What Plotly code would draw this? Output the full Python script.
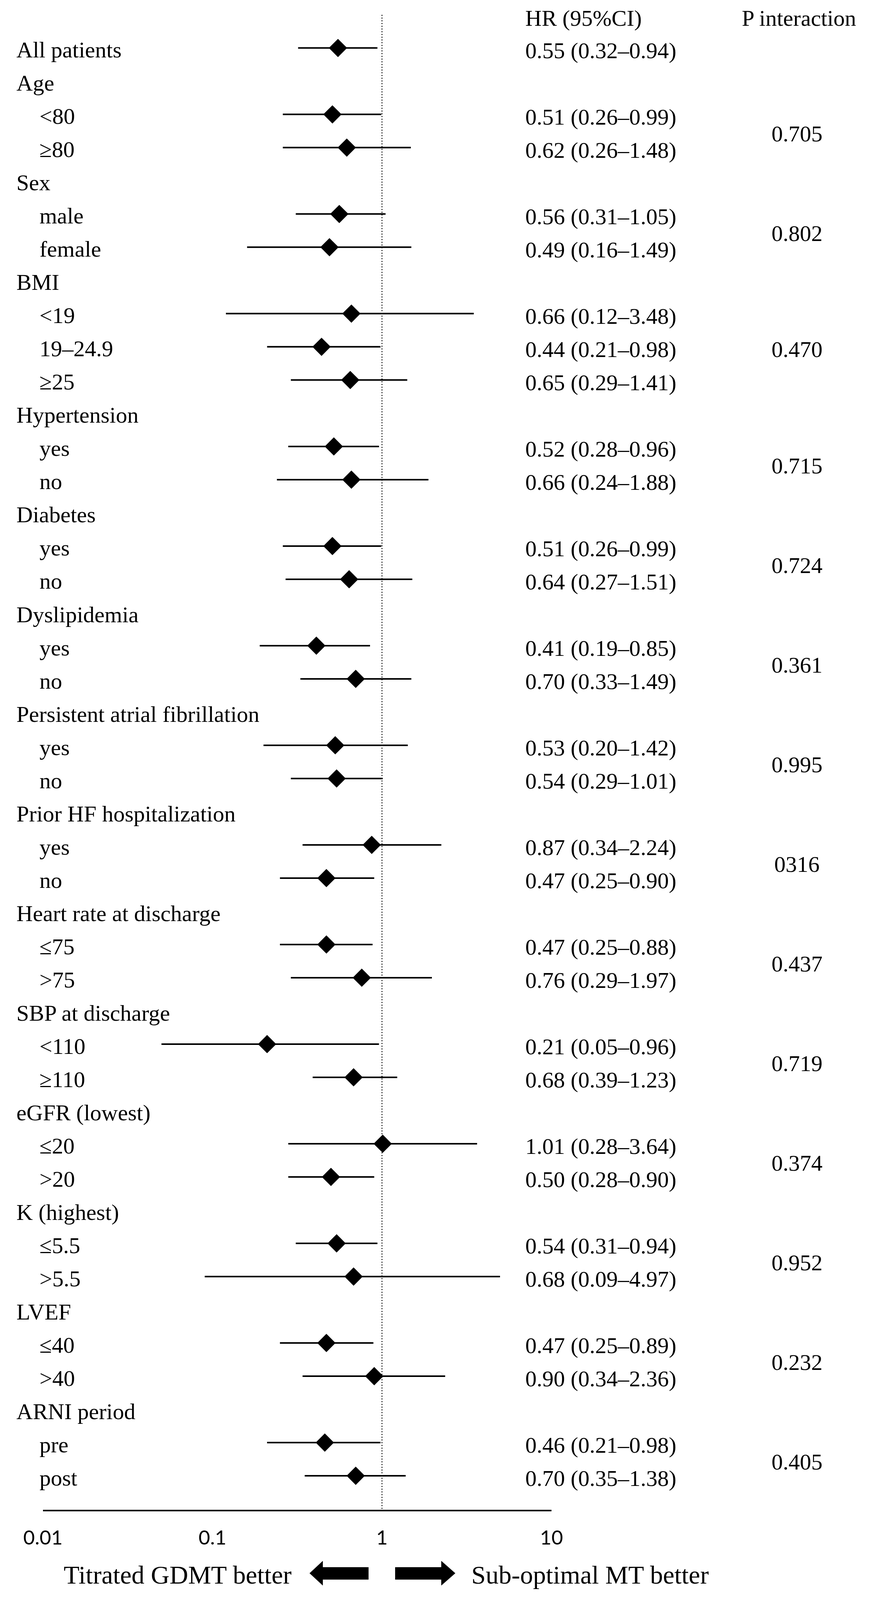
import plotly.graph_objects as go

# ---------------- data ----------------
labels = [
    "All patients",
    "Age", "<80", "≥80",
    "Sex", "male", "female",
    "BMI", "<19", "19–24.9", "≥25",
    "Hypertension", "yes", "no",
    "Diabetes", "yes", "no",
    "Dyslipidemia", "yes", "no",
    "Persistent atrial fibrillation", "yes", "no",
    "Prior HF hospitalization", "yes", "no",
    "Heart rate at discharge", "≤75", ">75",
    "SBP at discharge", "<110", "≥110",
    "eGFR (lowest)", "≤20", ">20",
    "K (highest)", "≤5.5", ">5.5",
    "LVEF", "≤40", ">40",
    "ARNI period", "pre", "post",
]
indent = [0,
          0, 1, 1,
          0, 1, 1,
          0, 1, 1, 1,
          0, 1, 1,
          0, 1, 1,
          0, 1, 1,
          0, 1, 1,
          0, 1, 1,
          0, 1, 1,
          0, 1, 1,
          0, 1, 1,
          0, 1, 1,
          0, 1, 1,
          0, 1, 1]
hr = [0.55,
      None, 0.51, 0.62,
      None, 0.56, 0.49,
      None, 0.66, 0.44, 0.65,
      None, 0.52, 0.66,
      None, 0.51, 0.64,
      None, 0.41, 0.70,
      None, 0.53, 0.54,
      None, 0.87, 0.47,
      None, 0.47, 0.76,
      None, 0.21, 0.68,
      None, 1.01, 0.50,
      None, 0.54, 0.68,
      None, 0.47, 0.90,
      None, 0.46, 0.70]
ci_lo = [0.32,
         None, 0.26, 0.26,
         None, 0.31, 0.16,
         None, 0.12, 0.21, 0.29,
         None, 0.28, 0.24,
         None, 0.26, 0.27,
         None, 0.19, 0.33,
         None, 0.20, 0.29,
         None, 0.34, 0.25,
         None, 0.25, 0.29,
         None, 0.05, 0.39,
         None, 0.28, 0.28,
         None, 0.31, 0.09,
         None, 0.25, 0.34,
         None, 0.21, 0.35]
ci_hi = [0.94,
         None, 0.99, 1.48,
         None, 1.05, 1.49,
         None, 3.48, 0.98, 1.41,
         None, 0.96, 1.88,
         None, 0.99, 1.51,
         None, 0.85, 1.49,
         None, 1.42, 1.01,
         None, 2.24, 0.90,
         None, 0.88, 1.97,
         None, 0.96, 1.23,
         None, 3.64, 0.90,
         None, 0.94, 4.97,
         None, 0.89, 2.36,
         None, 0.98, 1.38]
p_text = ["0.705", "0.802", "0.470", "0.715", "0.724", "0.361", "0.995",
          "0316", "0.437", "0.719", "0.374", "0.952", "0.232", "0.405"]
p_row = [2.5, 5.5, 9, 12.5, 15.5, 18.5, 21.5, 24.5, 27.5, 30.5, 33.5, 36.5, 39.5, 42.5]
tick_vals = [0.01, 0.1, 1, 10]
tick_text = ["0.01", "0.1", "1", "10"]
header_hr = "HR (95%CI)"
header_p = "P interaction"
left_label = "Titrated GDMT better"
right_label = "Sub-optimal MT better"

# ---------------- geometry ----------------
# Reference-page pixel coordinates are mapped onto the visible page area
# (the page body adds an 8 px offset; the visible photo height is ~4096 px).
OFF = 8
VS = 4096 / 4539


def fx(X):
    return X - OFF


def fy(Y):
    return Y * VS - OFF


W = 2226 - OFF
H = 4096 - OFF
PX_L, PX_R = fx(110), fx(1411)
PY_T, PY_B = fy(42), fy(4283)
ROW0 = fy(136)
ROWSTEP = 94.2 * VS
y_top = (PY_T - ROW0) / ROWSTEP
y_bot = (PY_B - ROW0) / ROWSTEP


def px(X):
    return (fx(X) - PX_L) / (PX_R - PX_L)


def py(Y):
    return (PY_B - fy(Y)) / (PY_B - PY_T)


SERIF = "Liberation Serif, Times New Roman, serif"
TXT = 58

rows = list(range(len(labels)))

fig = go.Figure()

# reference line at HR = 1
fig.add_trace(go.Scatter(
    x=[1, 1], y=[y_top, y_bot], mode="lines",
    line=dict(color="black", width=2.5, dash="2.5px,4.5px"),
    hoverinfo="skip", showlegend=False))

# confidence intervals
lx, ly = [], []
for i in rows:
    if hr[i] is not None:
        lx += [ci_lo[i], ci_hi[i], None]
        ly += [i, i, None]
fig.add_trace(go.Scatter(
    x=lx, y=ly, mode="lines",
    line=dict(color="black", width=4),
    hoverinfo="skip", showlegend=False))

# point estimates
mx = [hr[i] for i in rows if hr[i] is not None]
my = [i for i in rows if hr[i] is not None]
fig.add_trace(go.Scatter(
    x=mx, y=my, mode="markers",
    marker=dict(symbol="diamond", size=36, color="black", line=dict(width=0)),
    showlegend=False))

ann = []
for i in rows:
    ann.append(dict(
        x=px(40 if indent[i] == 0 else 99), xref="paper",
        y=i + 0.06, yref="y", text=labels[i], showarrow=False,
        xanchor="left", yanchor="middle",
        font=dict(family=SERIF, size=TXT, color="black")))
    if hr[i] is not None:
        ann.append(dict(
            x=px(1342), xref="paper", y=i + 0.08, yref="y",
            text=f"{hr[i]:.2f} ({ci_lo[i]:.2f}–{ci_hi[i]:.2f})",
            showarrow=False, xanchor="left", yanchor="middle",
            font=dict(family=SERIF, size=TXT, color="black")))
for t, r in zip(p_text, p_row):
    ann.append(dict(
        x=px(2039), xref="paper", y=r + 0.08, yref="y", text=t,
        showarrow=False, xanchor="center", yanchor="middle",
        font=dict(family=SERIF, size=TXT, color="black")))
ann.append(dict(x=px(1342), xref="paper", y=py(51), yref="paper",
                text=header_hr, showarrow=False, xanchor="left",
                yanchor="middle", font=dict(family=SERIF, size=TXT, color="black")))
ann.append(dict(x=px(1896), xref="paper", y=py(51), yref="paper",
                text=header_p, showarrow=False, xanchor="left",
                yanchor="middle", font=dict(family=SERIF, size=TXT, color="black")))
ann.append(dict(x=px(748), xref="paper", y=py(4468), yref="paper",
                text=left_label, showarrow=False, xanchor="right",
                yanchor="middle", font=dict(family=SERIF, size=66, color="black")))
ann.append(dict(x=px(1204), xref="paper", y=py(4468), yref="paper",
                text=right_label, showarrow=False, xanchor="left",
                yanchor="middle", font=dict(family=SERIF, size=66, color="black")))


def arrow_path(pts):
    return "M " + " L ".join(f"{px(a):.5f},{py(b):.5f}" for a, b in pts) + " Z"


left_arrow = [(792, 4463), (826, 4428), (826, 4446), (943, 4446),
              (943, 4481), (826, 4481), (826, 4498)]
right_arrow = [(1165, 4463), (1129, 4428), (1129, 4446), (1011, 4446),
               (1011, 4481), (1129, 4481), (1129, 4498)]
shapes = [
    dict(type="path", xref="paper", yref="paper", path=arrow_path(left_arrow),
         fillcolor="black", line=dict(width=0)),
    dict(type="path", xref="paper", yref="paper", path=arrow_path(right_arrow),
         fillcolor="black", line=dict(width=0)),
]

fig.update_layout(
    template="none",
    width=W, height=H,
    margin=dict(l=PX_L, r=W - PX_R, t=PY_T, b=H - PY_B, pad=0),
    paper_bgcolor="white", plot_bgcolor="white",
    showlegend=False,
    annotations=ann, shapes=shapes,
    xaxis=dict(type="log", range=[-2, 1], domain=[0, 1],
               showline=True, linecolor="black", linewidth=4,
               ticks="", tickvals=tick_vals, ticktext=tick_text,
               tickfont=dict(family="Lato, Carlito, Calibri, sans-serif", size=51, color="black"),
               ticklabelstandoff=24,
               showgrid=False, zeroline=False, automargin=False, fixedrange=True),
    yaxis=dict(range=[y_bot, y_top], visible=False, showgrid=False,
               zeroline=False, automargin=False, fixedrange=True),
)

fig.write_html("out.html")
